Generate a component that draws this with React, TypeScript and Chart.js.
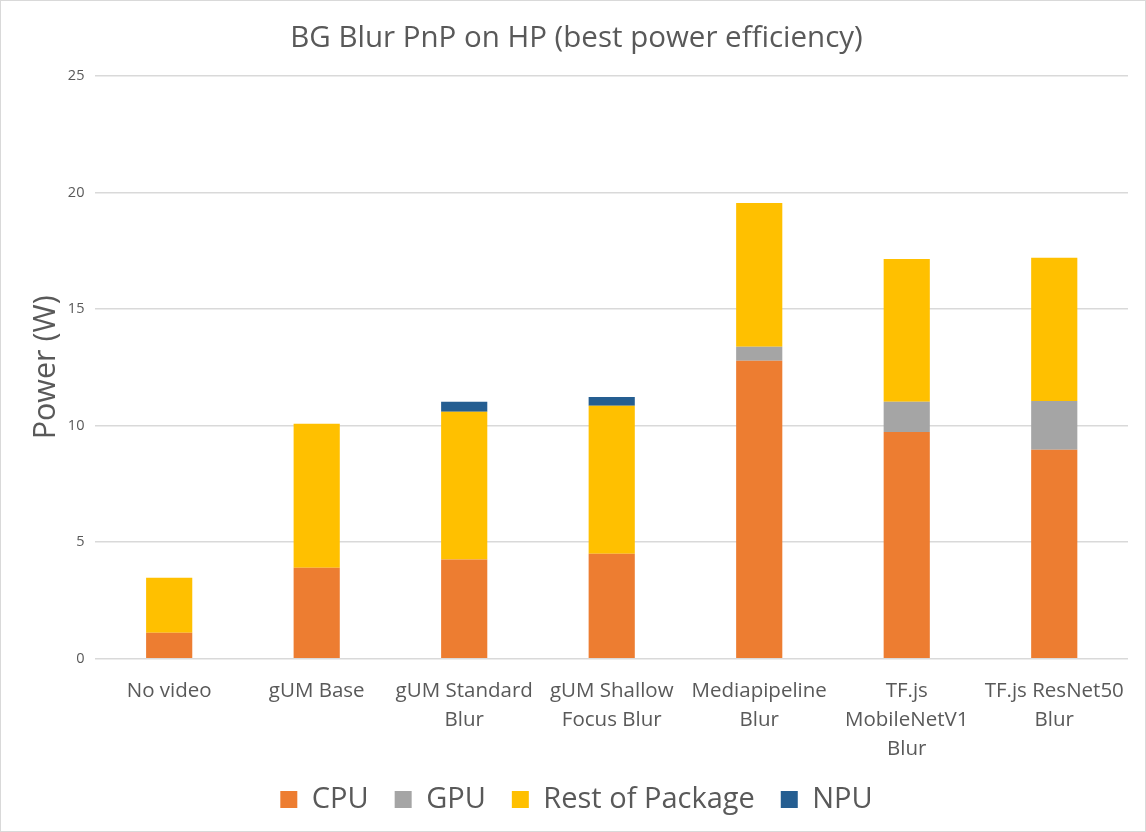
import React, { useEffect, useRef } from "react";
import { Chart, registerables } from "chart.js";

Chart.register(...registerables);

const categories: string[][] = [
  ["No video"],
  ["gUM Base"],
  ["gUM Standard", "Blur"],
  ["gUM Shallow", "Focus Blur"],
  ["Mediapipeline", "Blur"],
  ["TF.js", "MobileNetV1", "Blur"],
  ["TF.js ResNet50", "Blur"],
];

const cpu = [1.11, 3.9, 4.25, 4.5, 12.78, 9.73, 8.96];
const gpu = [0, 0, 0, 0, 0.6, 1.29, 2.1];
const restOfPackage = [2.36, 6.18, 6.34, 6.35, 6.17, 6.13, 6.14];
const npu = [0, 0, 0.43, 0.38, 0, 0, 0];

const yTicks = [0, 5, 10, 15, 20, 25];

const FONT = "'Open Sans', sans-serif";
const TEXT = "#595959";
const LEGEND_SHIFT = 15;

const legendTighten = {
  id: "legendTighten",
  beforeUpdate(chart: any) {
    const lg = chart.legend;
    if (!lg || lg.__tight) return;
    lg.__tight = true;
    const origFit = lg.fit;
    lg.fit = function () {
      origFit.call(this);
      this.height -= LEGEND_SHIFT;
    };
    const origDraw = lg.draw;
    lg.draw = function () {
      this.top -= LEGEND_SHIFT;
      origDraw.call(this);
      this.top += LEGEND_SHIFT;
    };
  },
};

export default function App() {
  const ref = useRef<HTMLCanvasElement | null>(null);

  useEffect(() => {
    document.body.style.margin = "0";
    if (!ref.current) return;
    const mk = (label: string, data: number[], color: string) => ({
      label,
      data,
      backgroundColor: color,
      borderWidth: 0,
      barPercentage: 0.313,
      categoryPercentage: 1,
    });
    const chart = new Chart(ref.current, {
      type: "bar",
      data: {
        labels: categories,
        datasets: [
          mk("CPU", cpu, "#ED7D31"),
          mk("GPU", gpu, "#A5A5A5"),
          mk("Rest of Package", restOfPackage, "#FFC000"),
          mk("NPU", npu, "#255E91"),
        ],
      },
      plugins: [legendTighten],
      options: {
        animation: false,
        responsive: false,
        layout: { padding: { left: 24, right: 16, top: 10, bottom: 6 } },
        plugins: {
          title: {
            display: true,
            text: "BG Blur PnP on HP (best power efficiency)",
            color: TEXT,
            font: { family: FONT, size: 29.5, weight: "normal", lineHeight: 1.2 },
            padding: { top: 10, bottom: 19.6 },
          },
          legend: {
            position: "bottom",
            labels: {
              color: TEXT,
              font: { family: FONT, size: 29 },
              boxWidth: 17,
              boxHeight: 17,
              padding: 26,
            },
          },
          tooltip: { enabled: false },
        },
        scales: {
          x: {
            stacked: true,
            grid: { display: false },
            border: { display: false },
            ticks: {
              color: TEXT,
              font: { family: FONT, size: 20.5, lineHeight: 1.42 },
              maxRotation: 0,
              autoSkip: false,
              padding: 10,
            },
          },
          y: {
            stacked: true,
            min: 0,
            max: 25,
            afterBuildTicks: (axis: any) => {
              axis.ticks = yTicks.map((v) => ({ value: v }));
            },
            grid: { color: "#D9D9D9", lineWidth: 1.5, drawTicks: false },
            border: { display: false },
            ticks: {
              color: TEXT,
              font: { family: FONT, size: 14.5 },
              padding: 11,
            },
            title: {
              display: true,
              text: "Power (W)",
              color: TEXT,
              font: { family: FONT, size: 30.5, lineHeight: 0.7 },
              padding: { top: 10.5, bottom: 0 },
            },
          },
        },
      },
    });
    return () => chart.destroy();
  }, []);

  return (
    <div
      style={{
        position: "absolute",
        left: 0,
        top: 0,
        width: 1146,
        height: 832,
        boxSizing: "border-box",
        border: "1.5px solid #D9D9D9",
        background: "#fff",
      }}
    >
      <canvas ref={ref} width={1143} height={829} style={{ display: "block" }} />
    </div>
  );
}
